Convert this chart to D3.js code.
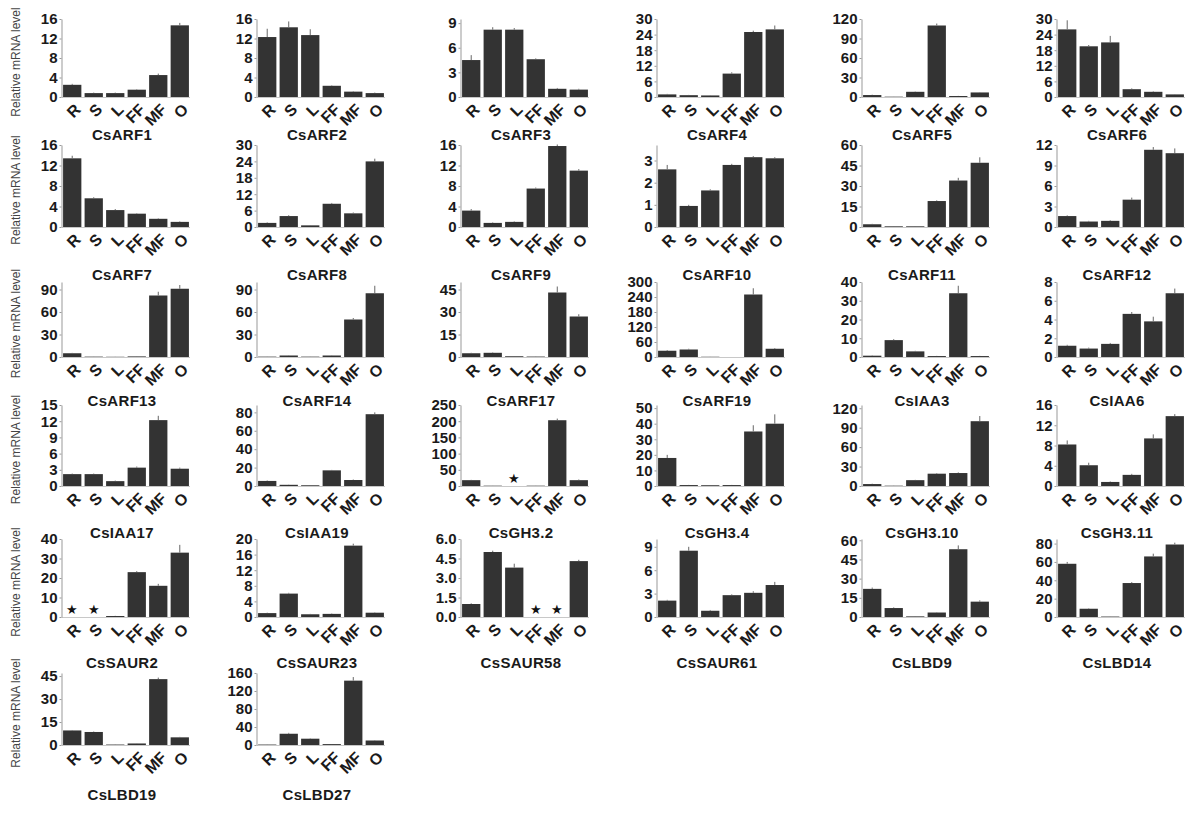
<!DOCTYPE html>
<html>
<head>
<meta charset="utf-8">
<script src="https://d3js.org/d3.v7.min.js"></script>
<style>
body { margin: 0; background: #fff; }
svg { display: block; font-family: "Liberation Sans", Arial, sans-serif; }
</style>
</head>
<body>
<svg id="drawing_region"></svg>
<script>
// tissues on the x axis of every panel
const tissues = ["R", "S", "L", "FF", "MF", "O"];

// gene name under each panel, left to right, top to bottom
const genes = [
    "CsARF1", "CsARF2", "CsARF3", "CsARF4", "CsARF5", "CsARF6",
    "CsARF7", "CsARF8", "CsARF9", "CsARF10", "CsARF11", "CsARF12",
    "CsARF13", "CsARF14", "CsARF17", "CsARF19", "CsIAA3", "CsIAA6",
    "CsIAA17", "CsIAA19", "CsGH3.2", "CsGH3.4", "CsGH3.10", "CsGH3.11",
    "CsSAUR2", "CsSAUR23", "CsSAUR58", "CsSAUR61", "CsLBD9", "CsLBD14",
    "CsLBD19", "CsLBD27"
];

// relative mRNA level (mean) per tissue
const means = [
    [2.5, 0.8, 0.8, 1.5, 4.5, 14.7],
    [12.3, 14.3, 12.7, 2.3, 1.1, 0.8],
    [4.5, 8.2, 8.2, 4.6, 1.0, 0.9],
    [1.0, 0.7, 0.6, 9.0, 25.0, 26.0],
    [3.0, 0.5, 8.0, 110, 1.5, 7.0],
    [26.0, 19.5, 21.0, 3.0, 2.0, 1.0],
    [13.4, 5.6, 3.3, 2.6, 1.6, 1.0],
    [1.5, 4.0, 0.6, 8.5, 5.0, 24.0],
    [3.2, 0.8, 1.0, 7.5, 15.8, 11.0],
    [2.6, 0.95, 1.65, 2.8, 3.15, 3.1],
    [2.0, 0.5, 0.5, 19.0, 34.0, 47.0],
    [1.6, 0.8, 0.9, 4.0, 11.3, 10.8],
    [5.0, 0.5, 0.3, 0.8, 82.0, 91.0],
    [0.5, 2.0, 0.5, 2.0, 50.0, 85.0],
    [2.5, 2.8, 0.5, 0.3, 43.0, 27.0],
    [25.0, 30.0, 1.0, 0.0, 250.0, 33.0],
    [0.7, 9.0, 3.0, 0.5, 34.0, 0.5],
    [1.2, 0.9, 1.4, 4.6, 3.8, 6.8],
    [2.2, 2.2, 0.9, 3.4, 12.2, 3.2],
    [5.5, 1.3, 0.8, 17.0, 6.5, 78.0],
    [18.0, 1.0, 0, 1.0, 203.0, 18.0],
    [18.0, 0.6, 0.5, 0.6, 35.0, 40.0],
    [3.0, 0.5, 9.0, 19.0, 20.0, 100.0],
    [8.2, 4.1, 0.8, 2.2, 9.4, 13.8],
    [0, 0, 0.5, 23.0, 16.0, 33.0],
    [1.0, 6.0, 0.7, 0.8, 18.3, 1.1],
    [1.0, 5.0, 3.8, 0, 0, 4.3],
    [2.1, 8.5, 0.8, 2.8, 3.1, 4.1],
    [22.0, 7.0, 0.5, 3.5, 53.0, 12.0],
    [58.0, 9.0, 0.5, 37.0, 66.0, 79.0],
    [9.5, 8.5, 0.3, 1.0, 43.0, 5.0],
    [1.0, 25.0, 14.0, 2.0, 143.0, 10.0]
];

// error bar (upper) per tissue
const errors = [
    [0.2, 0.1, 0.1, 0.1, 0.3, 0.5],
    [1.7, 1.2, 1.2, 0.1, 0.1, 0.1],
    [0.6, 0.3, 0.2, 0.1, 0.1, 0.1],
    [0.2, 0.1, 0.1, 0.5, 0.5, 1.5],
    [0.5, 0.1, 0.5, 3.0, 0.2, 0.5],
    [3.5, 0.5, 2.5, 0.3, 0.2, 0.1],
    [0.5, 0.2, 0.2, 0.1, 0.1, 0.1],
    [0.2, 0.3, 0.1, 0.3, 0.3, 1.0],
    [0.3, 0.1, 0.1, 0.2, 0.3, 0.3],
    [0.2, 0.05, 0.05, 0.05, 0.05, 0.05],
    [0.3, 0.1, 0.1, 0.5, 2.0, 4.0],
    [0.1, 0.1, 0.1, 0.3, 0.4, 0.7],
    [0.5, 0.1, 0.1, 0.1, 5.0, 5.0],
    [0.1, 0.3, 0.1, 0.3, 2.0, 10.0],
    [0.3, 0.3, 0.1, 0.1, 4.0, 1.5],
    [3.0, 3.0, 0.2, 0, 25.0, 3.0],
    [0.2, 0.5, 0.3, 0.1, 4.0, 0.1],
    [0.1, 0.1, 0.1, 0.2, 0.5, 0.5],
    [0.1, 0.1, 0.1, 0.2, 0.8, 0.2],
    [0.5, 0.2, 0.2, 0.5, 0.5, 2.0],
    [1.0, 0.2, 0, 0.2, 5.0, 2.0],
    [2.0, 0.1, 0.1, 0.1, 4.0, 6.0],
    [0.5, 0.2, 0.5, 1.0, 1.0, 8.0],
    [0.8, 0.5, 0.1, 0.2, 0.8, 0.4],
    [0, 0, 0.1, 0.5, 1.0, 4.0],
    [0.1, 0.2, 0.1, 0.1, 0.5, 0.1],
    [0.05, 0.1, 0.3, 0, 0, 0.1],
    [0.1, 0.5, 0.1, 0.1, 0.2, 0.4],
    [1.0, 0.5, 0.1, 0.3, 3.0, 1.0],
    [2.0, 0.5, 0.1, 1.0, 3.0, 2.0],
    [0.3, 0.3, 0.1, 0.1, 1.0, 0.3],
    [0.2, 2.0, 1.0, 0.2, 8.0, 1.0]
];

// y axis range and tick step per panel
const yMax = [
    16, 16, 9.5, 30, 120, 30,
    16, 30, 16, 3.7, 60, 12,
    100, 100, 50, 300, 40, 8,
    15, 88, 250, 52, 125, 16,
    40, 20, 6, 10, 61, 85,
    47, 160
];
const yStep = [
    4, 4, 3, 6, 30, 6,
    4, 6, 4, 1, 15, 3,
    30, 30, 15, 60, 10, 2,
    3, 20, 50, 10, 30, 4,
    10, 4, 1.5, 3, 15, 20,
    15, 40
];

// not detected
const stars = [
    { gene: "CsGH3.2", tissue: "L" },
    { gene: "CsSAUR2", tissue: "R" },
    { gene: "CsSAUR2", tissue: "S" },
    { gene: "CsSAUR58", tissue: "FF" },
    { gene: "CsSAUR58", tissue: "MF" }
];

const yLabel = "Relative mRNA level";

// panel grid
const colX = [62, 257, 461, 657, 862, 1057];
const rowZero = [97, 227, 357, 486, 617, 745];
const rowTop = [19, 145, 282, 405, 539, 673];
const titleY = [135, 275, 401, 533, 663, 795];
const plotW = 128;

class SmallBarChart {

    constructor( config, data ) {
        this.config = config;
        this.data = data;
        this.init();
    }

    init() {
        let self = this;
        let c = self.config;

        self.chart = c.svg.append('g');

        self.x = d3.scaleBand()
            .domain(tissues)
            .range([c.left, c.left + plotW])
            .paddingInner(0.15)
            .paddingOuter(0.05);

        self.y = d3.scaleLinear()
            .domain([0, c.max])
            .range([c.zero, c.top]);
    }

    update() {
        this.render();
    }

    render() {
        let self = this;
        let c = self.config;
        let fmt = (c.step % 1) ? d3.format('.1f') : d3.format('d');

        // baseline
        self.chart.append('line')
            .attr('x1', c.left).attr('x2', c.left + plotW)
            .attr('y1', c.zero + 0.5).attr('y2', c.zero + 0.5)
            .attr('stroke', '#c8c8c8');

        self.chart.selectAll('rect')
            .data(self.data)
            .enter()
            .append('rect')
            .attr('x', d => self.x(d.tissue))
            .attr('y', d => self.y(d.mean))
            .attr('width', self.x.bandwidth())
            .attr('height', d => self.y(0) - self.y(d.mean))
            .attr('fill', '#333');

        self.chart.selectAll('.err')
            .data(self.data.filter(d => d.err > 0))
            .enter()
            .append('line')
            .attr('class', 'err')
            .attr('x1', d => self.x(d.tissue) + self.x.bandwidth()/2)
            .attr('x2', d => self.x(d.tissue) + self.x.bandwidth()/2)
            .attr('y1', d => self.y(d.mean))
            .attr('y2', d => self.y(d.mean + d.err))
            .attr('stroke', '#666')
            .attr('stroke-width', 1);

        self.chart.selectAll('.star')
            .data(c.stars)
            .enter()
            .append('text')
            .attr('class', 'star')
            .attr('x', d => self.x(d) + self.x.bandwidth()/2)
            .attr('y', c.zero - 3)
            .attr('text-anchor', 'middle')
            .attr('font-size', '13px')
            .attr('fill', '#111')
            .text('★');

        let axis = d3.axisLeft(self.y)
            .tickValues(d3.range(0, c.max + 1e-9, c.step))
            .tickFormat(fmt)
            .tickSize(2)
            .tickSizeOuter(0)
            .tickPadding(2);

        let ag = self.chart.append('g')
            .attr('transform', `translate(${c.left - 0.5},0)`)
            .call(axis);
        ag.select('.domain').attr('stroke', '#999');
        ag.selectAll('.tick line').attr('stroke', '#999');
        ag.selectAll('.tick text')
            .attr('font-size', '15px')
            .attr('font-weight', 'bold')
            .attr('font-family', '"Liberation Sans", Arial, sans-serif')
            .attr('fill', '#1a1a1a');

        self.chart.selectAll('.xlab')
            .data(tissues)
            .enter()
            .append('text')
            .attr('class', 'xlab')
            .attr('transform', d => `translate(${self.x(d) + self.x.bandwidth()/2 + 1},${c.zero + 5}) rotate(-45)`)
            .attr('dy', '0.75em')
            .attr('text-anchor', 'end')
            .attr('font-size', '16px')
            .attr('font-weight', 'bold')
            .attr('fill', '#1a1a1a')
            .text(d => d);

        self.chart.append('text')
            .attr('x', c.left + 60)
            .attr('y', c.titleY)
            .attr('dy', '0.35em')
            .attr('text-anchor', 'middle')
            .attr('font-size', '15px')
            .attr('font-weight', 'bold')
            .attr('letter-spacing', '0.3px')
            .attr('fill', '#1a1a1a')
            .text(c.title);
    }
}

const svg = d3.select('#drawing_region')
    .attr('width', 1200)
    .attr('height', 816);

genes.forEach( (g, i) => {
    let row = Math.floor(i / 6);
    let col = i % 6;
    let data = tissues.map( (t, j) => ({ tissue: t, mean: means[i][j], err: errors[i][j] }) );
    let config = {
        svg: svg,
        left: colX[col],
        zero: rowZero[row],
        top: rowTop[row],
        titleY: titleY[row],
        max: yMax[i],
        step: yStep[i],
        title: g,
        stars: stars.filter(s => s.gene == g).map(s => s.tissue)
    };
    const chart = new SmallBarChart( config, data );
    chart.update();
});

// y axis title on the left of every row
svg.selectAll('.ylab')
    .data(rowZero)
    .enter()
    .append('text')
    .attr('class', 'ylab')
    .attr('transform', (d, i) => `translate(16,${(d + rowTop[i]) / 2 + 4}) rotate(-90)`)
    .attr('dy', '0.35em')
    .attr('text-anchor', 'middle')
    .attr('font-size', '12px')
    .attr('fill', '#444')
    .text(yLabel);
</script>
</body>
</html>
